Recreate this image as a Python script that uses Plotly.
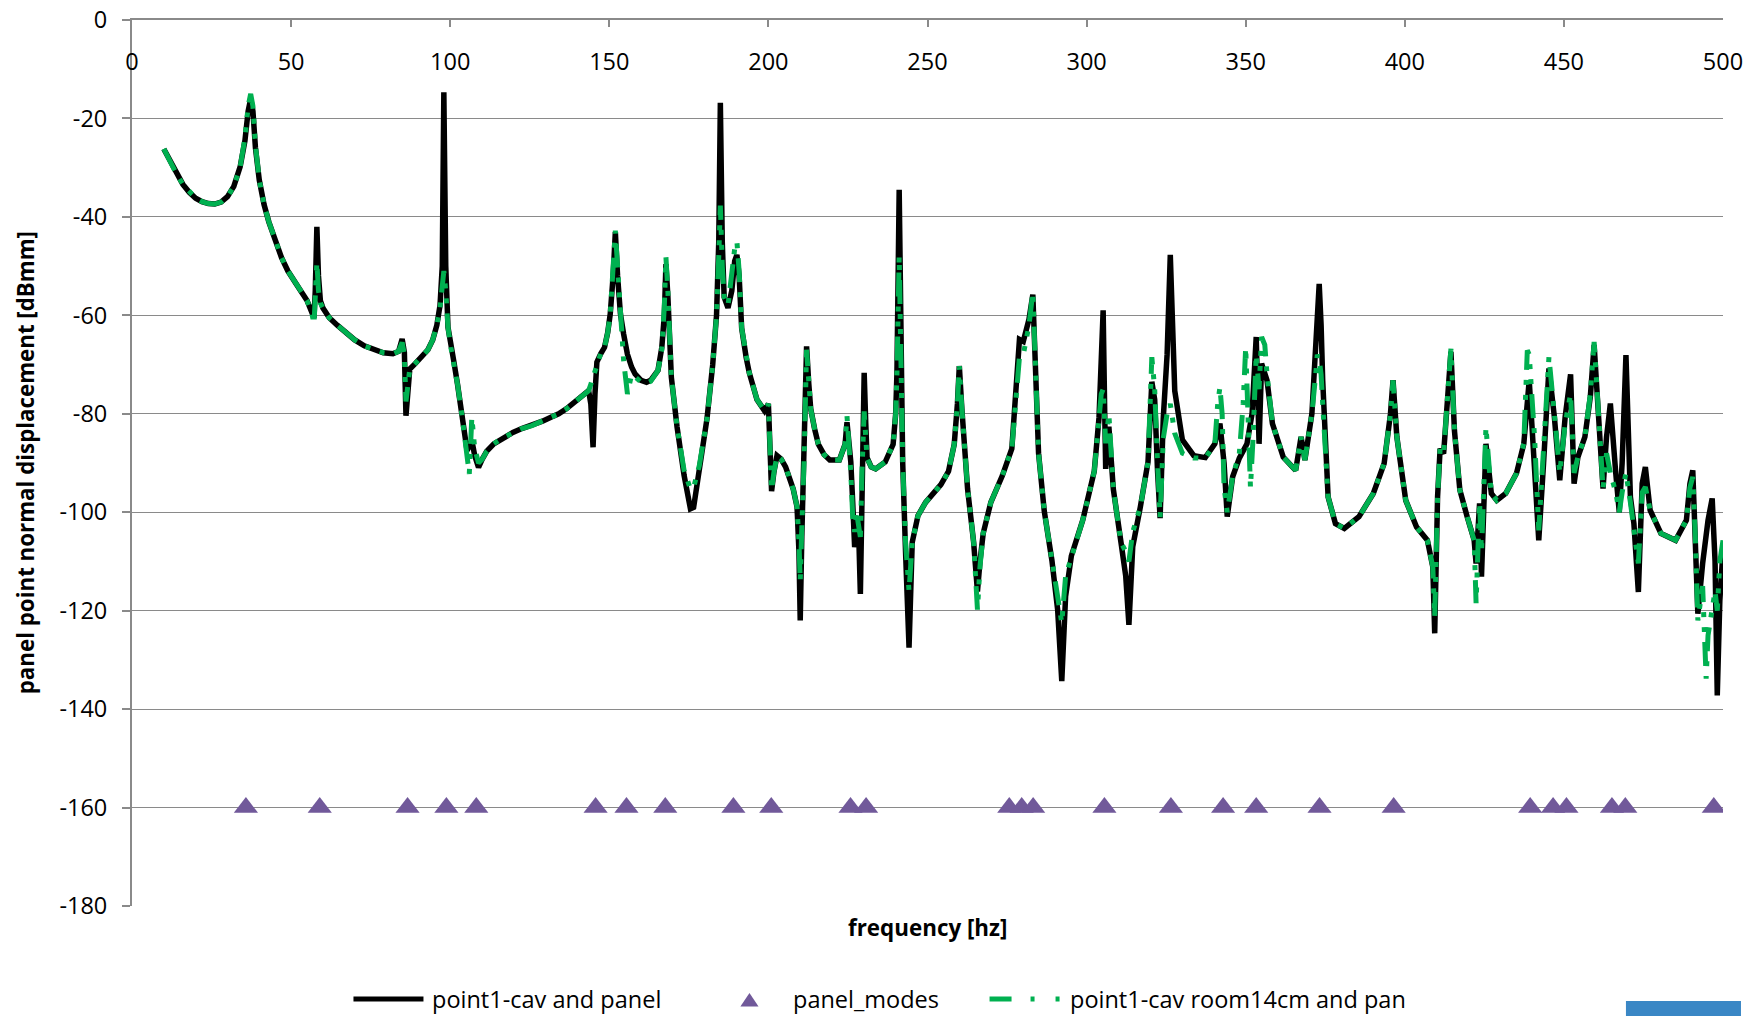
import plotly.graph_objects as go

# ---- point1-cav and panel (black) ----
panel_hz = [
    10, 12, 14, 16, 18, 20, 22, 24, 26, 28,
    30, 32, 34, 35.5, 36.5, 37.3, 38.0, 38.8, 40.0, 41.5,
    43, 45, 47, 49, 51, 53, 55, 56.5, 57.2, 57.6,
    58.1, 58.6, 59.2, 60.0, 62, 64.5, 67, 70, 73, 76,
    79, 82, 83.8, 84.9, 85.6, 86.1, 86.7, 87.3, 89, 91.5,
    93, 94.5, 95.8, 96.8, 97.5, 98.0, 98.6, 99.3, 100.2, 101.1,
    102.3, 103.5, 104.5, 105.3, 106.0, 106.8, 107.7, 108.9, 110, 111.5,
    113.7, 116.5, 119.7, 122.5, 125.7, 129, 132, 134.1, 136.5, 138.9,
    141, 143.5, 144.2, 144.9, 145.5, 146.1, 147.3, 148.5, 149.5, 150.3,
    151.2, 151.9, 152.6, 153.5, 154.5, 155.7, 157, 158.1, 160, 161.7,
    163, 165.3, 166.5, 167.3, 167.8, 168.4, 169.5, 171.3, 173.5, 175.5,
    176.5, 178.3, 180.7, 182.5, 183.7, 184.4, 184.9, 185.5, 186.1, 187.3,
    188.5, 189.4, 190.1, 190.8, 191.6, 193, 194.0, 196.4, 198.8, 200.0,
    200.5, 201.0, 201.7, 202.7, 204, 205.4, 207.8, 209.0, 209.6, 210.0,
    210.5, 211.2, 212.0, 212.7, 213.3, 214.5, 215.7, 217.5, 219.3, 222.3,
    224.1, 224.7, 225.3, 225.9, 226.5, 227.1, 227.7, 228.3, 228.9, 229.4,
    230.1, 230.6, 231.0, 232.3, 233.7, 236.7, 239.2, 240.0, 240.4, 241.1,
    241.7, 242.2, 243.1, 244.2, 245.2, 247.0, 249.4, 252, 254.2, 256.6,
    258.4, 259.4, 260.0, 260.8, 262.6, 264.5, 265.7, 266.5, 267.5, 269.9,
    273.5, 276.5, 277.7, 278.9, 280.1, 281.9, 283.1, 284.0, 284.9, 286.7,
    289.1, 290.9, 292.2, 293.4, 295.2, 298.8, 302.4, 303.9, 304.6, 305.2,
    305.7, 306.0, 307.0, 308.4, 310.8, 312.3, 313.3, 314.5, 316.9, 319.3,
    320.5, 321.4, 322.3, 323.1, 324.1, 325.3, 326.3, 327.0, 327.7, 330.1,
    333.7, 337.3, 340.3, 341.9, 343.2, 344.2, 345.9, 348, 350.4, 352.0,
    353.3, 354.2, 355.0, 356.7, 358.4, 361.8, 365.7, 367.4, 368.6, 370.8,
    372.0, 372.5, 373.1, 373.7, 374.2, 375.9, 378.2, 381.0, 385.6, 390.1,
    393.5, 395.5, 396.3, 397.5, 400.3, 403.7, 407.1, 408.8, 409.4, 410.3,
    411.1, 412.2, 413.6, 414.5, 415.6, 417.3, 419.6, 421.8, 422.4, 423.5,
    424.1, 425.0, 425.5, 427.2, 428.9, 431.7, 435.1, 437.4, 439.1, 440.8,
    442.1, 443.6, 445.3, 447.0, 448.7, 450.4, 452.1, 453.2, 454.4, 456.6,
    458.3, 459.5, 460.6, 462.3, 463.4, 464.6, 466.3, 467.4, 468.3, 469.5,
    470.9, 472.0, 473.4, 474.6, 475.6, 477.1, 480.5, 485.1, 488.5, 489.6,
    490.5, 491.3, 492.1, 493.6, 495.3, 496.6, 497.5, 498.2, 499.0, 500.0,
]
panel_db = [
    -26.2, -28.8, -31.3, -33.4, -35.0, -36.2, -36.9, -37.3, -37.4, -37.0,
    -35.9, -33.8, -29.8, -24.5, -18.5, -16.0, -18.5, -26.0, -32.5, -37.5,
    -41.0, -45.0, -48.3, -51.0, -53.2, -55.0, -57.0, -59.5, -60.5, -55.0,
    -42.0, -52.0, -57.0, -58.5, -60.5, -62.0, -63.5, -65.0, -66.2, -67.0,
    -67.6, -67.8, -67.3, -64.8, -67.5, -80.4, -75.0, -70.9, -69.8, -68.2,
    -67.0, -65.0, -62.0, -58.0, -50.0, -14.7, -50.0, -62.4, -66.5, -69.2,
    -74.0, -79.4, -84.0, -87.5, -86.5, -85.4, -88.5, -90.9, -89.3, -87.6,
    -86.1, -84.9, -83.8, -83.0, -82.4, -81.5, -80.6, -80.0, -79.0, -77.7,
    -76.6, -75.3, -78.0, -86.8, -76.0, -69.5, -67.8, -66.5, -63.5, -59.7,
    -52.0, -43.1, -52.0, -59.7, -63.8, -67.9, -70.5, -71.9, -73.2, -73.6,
    -73.2, -71.2, -66.5, -60.0, -49.6, -56.0, -72.6, -82.7, -92.5, -99.3,
    -99.0, -92.0, -81.0, -70.0, -60.0, -45.0, -16.8, -45.0, -56.3, -58.5,
    -55.0, -49.0, -47.7, -52.0, -62.6, -68.5, -71.7, -77.1, -79.4, -78.0,
    -85.0, -95.7, -92.0, -88.5, -89.2, -90.8, -95.3, -98.9, -108.0, -122.0,
    -105.0, -89.8, -66.3, -74.0, -79.0, -83.0, -86.2, -88.3, -89.4, -89.4,
    -86.2, -81.7, -86.0, -89.8, -98.0, -107.1, -104.0, -102.5, -116.6, -95.0,
    -71.7, -82.0, -88.9, -90.8, -91.2, -89.8, -86.2, -80.0, -71.7, -34.5,
    -70.0, -89.8, -108.0, -127.5, -106.1, -100.7, -98.0, -96.2, -94.4, -91.7,
    -86.2, -78.0, -70.3, -79.0, -95.3, -106.1, -116.1, -110.0, -104.3, -98.0,
    -92.6, -87.1, -76.2, -64.9, -65.3, -60.8, -55.8, -71.7, -88.0, -99.8,
    -109.8, -119.8, -134.3, -117.1, -108.9, -101.6, -91.7, -80.8, -70.0, -59.0,
    -80.0, -91.2, -82.6, -95.3, -106.1, -113.0, -122.9, -107.0, -98.9, -89.8,
    -73.5, -77.1, -91.7, -101.2, -80.8, -68.0, -47.7, -65.0, -75.3, -85.3,
    -88.5, -88.9, -86.1, -82.0, -90.0, -100.9, -92.8, -89.0, -86.1, -80.0,
    -64.4, -86.1, -69.8, -73.2, -82.0, -88.8, -91.5, -84.7, -89.4, -80.0,
    -66.0, -60.3, -53.6, -62.0, -73.2, -96.9, -102.3, -103.3, -100.9, -96.2,
    -90.1, -80.0, -73.2, -84.7, -97.6, -103.0, -105.7, -111.1, -124.6, -96.9,
    -87.1, -88.1, -75.0, -67.4, -83.4, -95.5, -100.9, -105.7, -110.4, -98.2,
    -113.1, -95.0, -86.1, -96.2, -97.6, -96.2, -92.1, -86.1, -73.2, -91.5,
    -105.7, -90.1, -70.8, -80.6, -93.5, -80.6, -72.0, -94.2, -88.8, -84.7,
    -76.6, -66.0, -77.3, -95.2, -84.7, -77.9, -92.1, -100.0, -90.0, -68.1,
    -96.9, -102.3, -116.2, -94.2, -90.8, -99.6, -104.3, -105.7, -101.6, -94.2,
    -91.5, -103.7, -120.6, -110.4, -101.6, -97.2, -110.0, -137.2, -118.0, -107.7,
]

# ---- point1-cav room14cm and pan (green) ----
room_hz = [
    10, 12, 14, 16, 18, 20, 22, 24, 26, 28,
    30, 32, 34, 35.5, 36.5, 37.3, 38.0, 38.8, 40.0, 41.5,
    43, 45, 47, 49, 51, 53, 55, 56.5, 57.2, 57.6,
    58.1, 58.6, 59.2, 60.0, 62, 64.5, 67, 70, 73, 76,
    79, 82, 83.8, 84.9, 85.6, 86.1, 86.7, 87.3, 89, 91.5,
    93, 94.5, 95.8, 96.8, 97.5, 98.0, 98.6, 99.3, 100.2, 101.1,
    102.3, 103.5, 104.5, 105.3, 106.0, 106.8, 107.7, 108.9, 110, 111.5,
    113.7, 116.5, 119.7, 122.5, 125.7, 129, 132, 134.1, 136.5, 138.9,
    141, 143.5, 144.2, 144.9, 145.5, 146.1, 147.3, 148.5, 149.5, 150.3,
    151.2, 151.9, 152.6, 153.5, 154.5, 155.7, 157, 158.1, 160, 161.7,
    163, 165.3, 166.5, 167.3, 167.8, 168.4, 169.5, 171.3, 173.5, 175.5,
    176.5, 178.3, 180.7, 182.5, 183.7, 184.4, 184.9, 185.5, 186.1, 187.3,
    188.5, 189.4, 190.1, 190.8, 191.6, 193, 194.0, 196.4, 198.8, 200.0,
    200.5, 201.0, 201.7, 202.7, 204, 205.4, 207.8, 209.0, 209.6, 210.0,
    210.5, 211.2, 212.0, 212.7, 213.3, 214.5, 215.7, 217.5, 219.3, 222.3,
    224.1, 224.7, 225.3, 225.9, 226.5, 227.1, 227.7, 228.3, 228.9, 229.4,
    230.1, 230.6, 231.0, 232.3, 233.7, 236.7, 239.2, 240.0, 240.4, 241.1,
    241.7, 242.2, 243.1, 244.2, 245.2, 247.0, 249.4, 252, 254.2, 256.6,
    258.4, 259.4, 260.0, 260.8, 262.6, 264.5, 265.7, 266.5, 267.5, 269.9,
    273.5, 276.5, 277.7, 278.9, 280.1, 281.9, 283.1, 284.0, 284.9, 286.7,
    289.1, 290.9, 292.2, 293.4, 295.2, 298.8, 302.4, 303.9, 304.6, 305.2,
    305.7, 306.0, 307.0, 308.4, 310.8, 312.3, 313.3, 314.5, 316.9, 319.3,
    320.5, 321.4, 322.3, 323.1, 324.1, 325.3, 326.3, 327.0, 327.7, 330.1,
    333.7, 337.3, 340.3, 341.2, 341.9, 342.6, 343.2, 344.2, 345.9, 348,
    349.2, 350.0, 350.8, 351.5, 352.3, 353.3, 354.2, 355.0, 356.0, 356.7,
    358.4, 361.8, 365.7, 367.4, 368.6, 370.8, 372.0, 372.5, 373.1, 373.7,
    374.2, 375.9, 378.2, 381.0, 385.6, 390.1, 393.5, 395.5, 396.3, 397.5,
    400.3, 403.7, 407.1, 408.8, 409.4, 410.3, 411.1, 412.2, 413.6, 414.5,
    415.6, 417.3, 419.6, 421.8, 422.4, 423.5, 424.1, 425.0, 425.5, 427.2,
    428.9, 431.7, 435.1, 437.4, 438.5, 439.1, 440.8, 442.1, 443.6, 445.3,
    447.0, 448.7, 450.4, 452.1, 453.2, 454.4, 456.6, 458.3, 459.5, 460.6,
    462.3, 463.4, 464.6, 466.3, 467.4, 468.3, 469.5, 470.9, 472.0, 473.4,
    474.6, 475.6, 477.1, 480.5, 485.1, 488.5, 489.6, 490.5, 491.3, 492.1,
    493.6, 494.7, 495.3, 496.6, 497.5, 498.2, 499.0, 500.0,
]
room_db = [
    -26.2, -28.8, -31.3, -33.4, -35.0, -36.2, -36.9, -37.3, -37.4, -37.0,
    -35.9, -33.8, -29.8, -24.0, -17.5, -15.0, -17.5, -25.5, -32.5, -37.5,
    -41.0, -45.0, -48.3, -51.0, -53.2, -55.0, -57.0, -59.5, -61.8, -57.0,
    -49.2, -55.0, -57.5, -58.5, -60.5, -62.0, -63.5, -65.0, -66.2, -67.0,
    -67.6, -67.8, -67.3, -65.5, -68.0, -77.5, -74.0, -70.9, -69.8, -68.2,
    -67.0, -65.0, -62.0, -58.5, -53.0, -51.0, -55.0, -62.4, -66.5, -69.2,
    -74.0, -79.4, -84.0, -88.0, -92.2, -80.7, -87.0, -90.0, -89.3, -87.6,
    -86.1, -84.9, -83.8, -83.0, -82.4, -81.5, -80.6, -80.0, -79.0, -77.7,
    -76.6, -75.3, -74.0, -72.5, -71.0, -69.5, -67.8, -66.5, -63.5, -59.7,
    -52.0, -42.8, -50.0, -59.7, -69.2, -76.0, -72.0, -72.5, -73.6, -73.8,
    -73.4, -71.2, -67.0, -58.0, -48.2, -55.0, -72.6, -82.7, -91.5, -95.3,
    -95.0, -90.5, -81.0, -70.0, -60.0, -48.0, -37.7, -50.0, -56.3, -58.0,
    -52.0, -46.5, -45.0, -51.0, -62.6, -68.5, -71.7, -77.1, -79.4, -78.0,
    -86.0, -95.5, -92.0, -88.5, -89.2, -90.8, -95.3, -98.9, -106.0, -114.0,
    -103.0, -89.8, -67.0, -74.0, -79.0, -83.0, -86.2, -88.3, -89.4, -89.4,
    -86.2, -80.5, -86.0, -92.0, -101.0, -104.0, -100.0, -102.0, -105.0, -92.0,
    -79.5, -85.0, -89.0, -90.8, -91.2, -89.8, -86.2, -80.0, -72.0, -48.0,
    -68.0, -89.8, -106.0, -116.0, -106.1, -100.7, -98.0, -96.2, -94.4, -91.7,
    -86.2, -78.0, -70.3, -79.0, -95.3, -106.1, -119.8, -111.0, -104.3, -98.0,
    -92.6, -87.1, -77.0, -68.5, -68.0, -62.0, -55.3, -72.0, -88.0, -99.8,
    -109.8, -116.0, -122.5, -113.0, -108.9, -101.6, -91.7, -80.8, -76.0, -75.0,
    -80.0, -86.0, -80.0, -95.3, -106.1, -108.0, -110.0, -104.0, -98.9, -89.8,
    -68.5, -75.0, -90.0, -101.0, -85.0, -80.0, -78.0, -81.0, -84.0, -88.0,
    -89.0, -89.0, -86.1, -78.0, -74.6, -80.0, -95.0, -100.0, -92.8, -88.0,
    -78.0, -66.5, -80.0, -95.0, -85.0, -68.0, -75.0, -64.4, -66.0, -72.0,
    -82.0, -88.8, -91.5, -84.7, -89.4, -80.0, -72.0, -68.0, -69.0, -72.0,
    -78.0, -96.9, -102.3, -103.3, -100.9, -96.2, -90.1, -80.0, -73.2, -84.7,
    -97.6, -103.0, -105.7, -111.1, -121.3, -96.9, -87.1, -88.1, -75.0, -66.8,
    -83.4, -95.5, -100.9, -105.7, -118.5, -98.0, -108.0, -90.0, -82.7, -96.2,
    -97.6, -96.2, -92.1, -86.0, -67.1, -68.0, -85.0, -103.7, -88.0, -68.5,
    -80.0, -92.0, -82.0, -76.0, -92.0, -88.8, -84.7, -76.0, -65.4, -77.3,
    -95.2, -88.0, -92.0, -96.0, -100.0, -96.0, -92.0, -98.0, -103.0, -110.4,
    -96.0, -94.9, -99.6, -104.3, -105.7, -101.6, -95.0, -92.8, -105.0, -122.0,
    -115.0, -133.8, -125.0, -120.0, -116.0, -120.0, -110.0, -105.7,
]

# ---- panel_modes (purple triangles) ----
mode_hz = [
    35.8, 59.0, 86.6, 98.8, 108.2, 145.7, 155.4, 167.6, 189.0, 200.9,
    225.8, 230.7, 275.7, 279.6, 283.2, 305.6, 326.5, 342.9, 353.3, 373.2,
    396.5, 439.4, 446.6, 450.8, 465.1, 469.3, 497.1,
]
mode_db = [
    -160, -160, -160, -160, -160, -160, -160, -160, -160, -160,
    -160, -160, -160, -160, -160, -160, -160, -160, -160, -160,
    -160, -160, -160, -160, -160, -160, -160,
]

x_ticks = [0, 50, 100, 150, 200, 250, 300, 350, 400, 450, 500]
y_ticks = [0, -20, -40, -60, -80, -100, -120, -140, -160, -180]
y_tick_text = ["0", "-20", "-40", "-60", "-80", "-100", "-120", "-140", "-160", "-180"]

assert len(panel_hz) == len(panel_db)
assert len(room_hz) == len(room_db)

BLACK = "#000000"
GREEN = "#00B050"
PURPLE = "#71599A"
GRID = "#8A8A8A"
FONT = "Open Sans, sans-serif"
GREEN_DASH = "24px,10px,5px,10px,5px,10px"

fig = go.Figure()
fig.add_trace(go.Scatter(
    x=panel_hz, y=panel_db, mode="lines", name="point1-cav and panel",
    line=dict(color=BLACK, width=5.5),
))
fig.add_trace(go.Scatter(
    x=mode_hz, y=mode_db, mode="markers", name="panel_modes",
    marker=dict(symbol="triangle-up", size=21, color=PURPLE, line=dict(width=0)),
))
fig.add_trace(go.Scatter(
    x=room_hz, y=room_db, mode="lines", name="point1-cav room14cm and pan",
    line=dict(color=GREEN, width=5, dash=GREEN_DASH),
))

# hand-built legend row under the x-axis title
leg_y = -0.1049
shapes = [
    dict(type="line", xref="paper", yref="paper", x0=0.1392, x1=0.1832,
         y0=leg_y, y1=leg_y, line=dict(color=BLACK, width=5)),
    dict(type="path", xref="paper", yref="paper",
         path="M 0.3824,-0.1134 L 0.3938,-0.1134 L 0.3881,-0.0981 Z",
         fillcolor=PURPLE, line=dict(width=0)),
    dict(type="line", xref="paper", yref="paper", x0=0.5390, x1=0.5849,
         y0=leg_y, y1=leg_y, line=dict(color=GREEN, width=5, dash="22px,19px,4px,21px,4px,21px")),
    dict(type="rect", xref="paper", yref="paper", x0=0.9390, x1=1.0113,
         y0=-0.1072, y1=-0.14, fillcolor="#3A87C5", line=dict(width=0)),
]

annotations = [
    dict(text="panel point normal displacement [dBmm]", xref="paper", yref="paper",
         x=-0.0671, y=0.5, xanchor="center", yanchor="middle", textangle=-90,
         showarrow=False, font=dict(family=FONT, size=22.3, color=BLACK, weight="bold")),
    dict(text="frequency [hz]", xref="paper", yref="paper",
         x=0.5, y=-0.0248, xanchor="center", yanchor="middle",
         showarrow=False, font=dict(family=FONT, size=22.4, color=BLACK, weight="bold")),
]
for label, xpos in [("point1-cav and panel", 0.1876), ("panel_modes", 0.4139),
                    ("point1-cav room14cm and pan", 0.5886)]:
    annotations.append(dict(
        text=label, xref="paper", yref="paper", x=xpos, y=leg_y,
        xanchor="left", yanchor="middle", showarrow=False,
        font=dict(family=FONT, size=23.5, color=BLACK),
    ))

fig.update_layout(
    width=1763, height=1016,
    margin=dict(l=131.5, r=40.4, t=19.5, b=110),
    paper_bgcolor="white", plot_bgcolor="white",
    showlegend=False,
    font=dict(family=FONT, size=23, color=BLACK),
    shapes=shapes, annotations=annotations,
)
fig.update_xaxes(
    range=[0, 500], tickvals=x_ticks, side="top", automargin=False,
    showgrid=False, zeroline=False,
    showline=True, linecolor=GRID, linewidth=1.5,
    ticks="inside", ticklen=7, tickcolor=GRID, tickwidth=1.5,
    ticklabelposition="inside", ticklabeloverflow="allow", ticklabelstandoff=29,
    tickfont=dict(family=FONT, size=23.5, color=BLACK),
)
fig.update_yaxes(
    range=[-180, 0], tickvals=y_ticks, ticktext=y_tick_text, automargin=False,
    showgrid=True, gridcolor=GRID, gridwidth=1.4, zeroline=False,
    showline=True, linecolor=GRID, linewidth=2,
    ticks="outside", ticklen=8, tickcolor=GRID, tickwidth=1.5,
    ticklabelstandoff=10,
    tickfont=dict(family=FONT, size=23.5, color=BLACK),
)

fig.write_html("out.html")
